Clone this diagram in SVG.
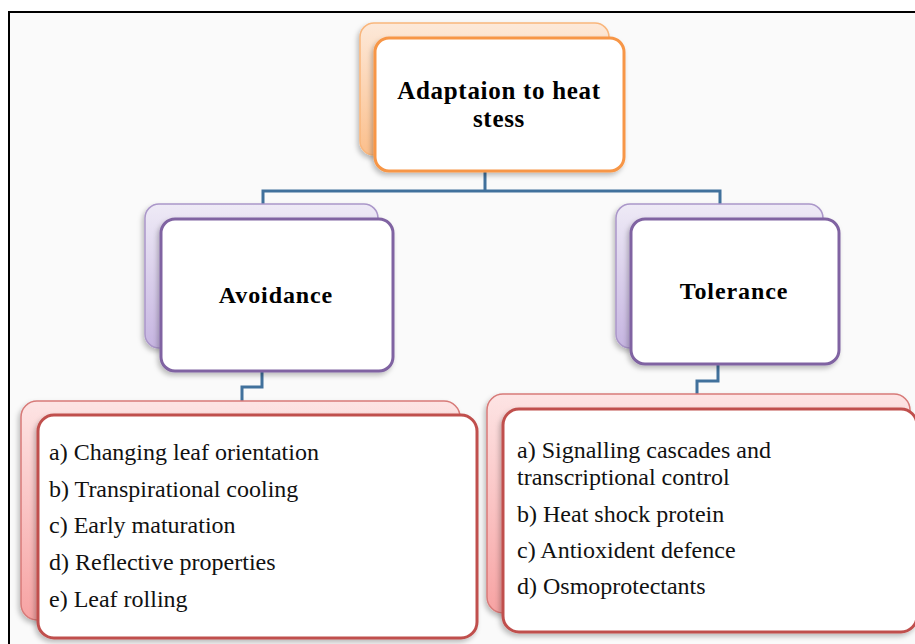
<svg xmlns="http://www.w3.org/2000/svg" width="915" height="644" viewBox="0 0 915 644">
<defs>
<linearGradient id="gO" x1="0" y1="0" x2="0" y2="1"><stop offset="0" stop-color="#fde9d9"/><stop offset="1" stop-color="#fbbf8c"/></linearGradient>
<linearGradient id="gP" x1="0" y1="0" x2="0" y2="1"><stop offset="0" stop-color="#eeeaf6"/><stop offset="1" stop-color="#c6b5e1"/></linearGradient>
<linearGradient id="gR" x1="0" y1="0" x2="0" y2="1"><stop offset="0" stop-color="#fde4e4"/><stop offset="1" stop-color="#f7a3a3"/></linearGradient>
<filter id="sh" x="-10%" y="-10%" width="120%" height="125%"><feDropShadow dx="-2" dy="3" stdDeviation="2.5" flood-color="#000" flood-opacity="0.25"/></filter>
</defs>
<style>
.hd{font-family:"Liberation Serif","Times New Roman",serif;font-weight:bold;font-size:24px;fill:#000;text-anchor:middle;letter-spacing:0.9px}
.tx{font-family:"Liberation Serif","Times New Roman",serif;font-size:24px;fill:#111}
.front{fill:#fff;stroke-width:3}
.back{stroke-width:1.5;filter:url(#sh)}
.con{fill:none;stroke:#41719c;stroke-width:3}
</style>
<rect x="0" y="0" width="915" height="644" fill="#fff"/>
<rect x="9" y="12" width="920" height="650" fill="#fafafa" stroke="#000" stroke-width="2"/>
<g id="connectors">
<path class="con" d="M485 171 V191 M263 206 V191 H720 V206"/>
<path class="con" d="M262 371 V387 H242 V402"/>
<path class="con" d="M718 364 V381 H697 V396"/>
</g>
<g id="node-root">
<rect class="back" x="360" y="23" width="249" height="132" rx="14" fill="url(#gO)" stroke="#f9b67c"/>
<rect class="front" x="375" y="38" width="249" height="133" rx="14" stroke="#f79646" filter="url(#sh)"/>
<text class="hd" x="499" y="99" style="font-size:25px;letter-spacing:0.7px">Adaptaion to heat</text>
<text class="hd" x="499" y="127" style="font-size:25px;letter-spacing:0.7px">stess</text>
</g>
<g id="node-avoidance">
<rect class="back" x="145" y="204" width="233" height="144" rx="14" fill="url(#gP)" stroke="#ab97c9"/>
<rect class="front" x="161" y="219" width="232" height="152" rx="14" stroke="#8064a2" filter="url(#sh)"/>
<text class="hd" x="276" y="303">Avoidance</text>
</g>
<g id="node-tolerance">
<rect class="back" x="616" y="204" width="207" height="144" rx="14" fill="url(#gP)" stroke="#ab97c9"/>
<rect class="front" x="631" y="219" width="208" height="145" rx="14" stroke="#8064a2" filter="url(#sh)"/>
<text class="hd" x="734" y="299">Tolerance</text>
</g>
<g id="node-avoidance-list">
<rect class="back" x="21" y="401" width="439" height="219" rx="16" fill="url(#gR)" stroke="#d77a78"/>
<rect class="front" x="38" y="415" width="439" height="223" rx="16" stroke="#c0504d" filter="url(#sh)"/>
<text class="tx" x="49" y="460">a) Changing leaf orientation</text>
<text class="tx" x="49" y="497">b) Transpirational cooling</text>
<text class="tx" x="49" y="533">c) Early maturation</text>
<text class="tx" x="49" y="570">d) Reflective properties</text>
<text class="tx" x="49" y="607">e) Leaf rolling</text>
</g>
<g id="node-tolerance-list">
<rect class="back" x="487" y="394" width="423" height="219" rx="16" fill="url(#gR)" stroke="#d77a78"/>
<rect class="front" x="503" y="409" width="414" height="223" rx="16" stroke="#c0504d" filter="url(#sh)"/>
<text class="tx" x="517" y="458">a) Signalling cascades and</text>
<text class="tx" x="517" y="485">transcriptional control</text>
<text class="tx" x="517" y="522">b) Heat shock protein</text>
<text class="tx" x="517" y="558">c) Antioxident defence</text>
<text class="tx" x="517" y="594">d) Osmoprotectants</text>
</g>
</svg>
